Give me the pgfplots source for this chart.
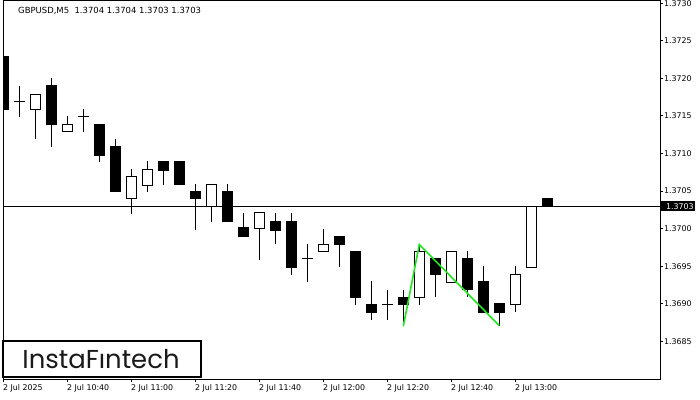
\documentclass[border=0pt]{standalone}
\usepackage{fontspec}
\setmainfont{DejaVu Sans}
\newfontfamily\logofont{Poppins}
\usepackage{pgfplots}
\usepackage{pgfplotstable}
\pgfplotsset{compat=1.18}
\definecolor{patgreen}{RGB}{30,230,30}
\newcommand{\lblfont}{\fontsize{7.9}{9}\selectfont}
% bearish candles: x open high low close
\pgfplotstableread{
x o h l c
0 1.37229 1.37229 1.37149 1.37158
3 1.37190 1.37200 1.37109 1.37138
6 1.37139 1.37139 1.37089 1.37098
7 1.37110 1.37119 1.37049 1.37049
10 1.37090 1.37090 1.37058 1.37078
11 1.37090 1.37090 1.37059 1.37059
12 1.37050 1.37059 1.36998 1.37040
14 1.37050 1.37059 1.37009 1.37009
15 1.37001 1.37021 1.36989 1.36989
17 1.37010 1.37021 1.36979 1.36998
18 1.37010 1.37021 1.36939 1.36949
21 1.36990 1.36990 1.36949 1.36979
22 1.36970 1.36970 1.36899 1.36909
23 1.36899 1.36930 1.36879 1.36889
25 1.36909 1.36919 1.36876 1.36899
27 1.36960 1.36960 1.36909 1.36939
29 1.36960 1.36970 1.36909 1.36919
30 1.36930 1.36950 1.36889 1.36889
31 1.36900 1.36900 1.36871 1.36889
34 1.37040 1.37040 1.37030 1.37030
}\bearT
% bullish candles
\pgfplotstableread{
x o h l c
2 1.37158 1.37179 1.37119 1.37179
4 1.37129 1.37150 1.37129 1.37139
8 1.37040 1.37079 1.37020 1.37070
9 1.37058 1.37090 1.37049 1.37079
13 1.37030 1.37059 1.37009 1.37059
16 1.37000 1.37021 1.36959 1.37021
20 1.36969 1.37000 1.36969 1.36979
26 1.36909 1.36980 1.36899 1.36970
28 1.36929 1.36970 1.36929 1.36970
32 1.36899 1.36950 1.36889 1.36939
33 1.36949 1.37030 1.36949 1.37030
}\bullT
% doji candles
\pgfplotstableread{
x o h l c
1 1.37169 1.37190 1.37149 1.37169
5 1.37149 1.37159 1.37129 1.37149
19 1.36960 1.36980 1.36929 1.36960
24 1.36899 1.36919 1.36879 1.36899
}\dojiT
\pgfplotsset{
  wick/.style={draw=none, mark=none, forget plot,
    error bars/.cd, y dir=plus, y explicit, error mark=none,
    error bar style={draw=black, line width=1bp}},
  vbody/.style={draw=none, mark=none, forget plot,
    error bars/.cd, y dir=plus, y explicit, error mark=none,
    error bar style={draw=#1, line width=\bw, line cap=butt}},
  hline/.style={draw=none, mark=none, forget plot,
    error bars/.cd, x dir=both, x fixed=0.34, error mark=none,
    error bar style={draw=black, line width=1bp}},
}
\newlength{\bw}
\begin{document}
\begin{tikzpicture}
\begin{axis}[
  scale only axis, width=657bp, height=378bp,
  at={(3bp,21bp)}, anchor=south west,
  xmin=-0.019, xmax=41.044, ymin=1.3680, ymax=1.37303,
  axis line style={line width=1bp, black},
  xtick={0,4,8,12,16,20,24,28,32},
  xticklabels={2 Jul 2025,2 Jul 10:40,2 Jul 11:00,2 Jul 11:20,2 Jul 11:40,2 Jul 12:00,2 Jul 12:20,2 Jul 12:40,2 Jul 13:00},
  ytick={1.3685,1.3690,1.3695,1.3700,1.3705,1.3710,1.3715,1.3720,1.3725,1.3730},
  yticklabels={1.3685,1.3690,1.3695,1.3700,1.3705,1.3710,1.3715,1.3720,1.3725,1.3730},
  xtick pos=left, ytick pos=right, yticklabel pos=right,
  tick align=outside, major tick length=3bp,
  tick style={black, line width=1bp},
  xticklabel style={anchor=north west, font=\lblfont, inner sep=0pt, xshift=-0.5bp, yshift=-2bp},
  yticklabel style={anchor=west, font=\lblfont, inner sep=0pt, xshift=1bp},
  clip=true,
]
\addplot[black, line width=1bp, forget plot] coordinates {(-1,1.3703) (42,1.3703)};
% wicks
\addplot[wick] table[x=x, y=l, y error plus expr=\thisrow{h}-\thisrow{l}] {\bearT};
\addplot[wick] table[x=x, y=l, y error plus expr=\thisrow{h}-\thisrow{l}] {\bullT};
\addplot[wick] table[x=x, y=l, y error plus expr=\thisrow{h}-\thisrow{l}] {\dojiT};
% bodies (outer)
\setlength{\bw}{11bp}
\addplot[vbody=black] table[x=x, y=c, y error plus expr=\thisrow{o}-\thisrow{c}] {\bearT};
\addplot[vbody=black] table[x=x, y=o, y error plus expr=\thisrow{c}-\thisrow{o}] {\bullT};
\end{axis}
\begin{axis}[
  scale only axis, width=657bp, height=378bp,
  at={(3bp,21bp)}, anchor=south west,
  xmin=-0.019, xmax=41.044, ymin=1.3680, ymax=1.37303,
  axis lines=none, clip=true,
]
\setlength{\bw}{9bp}
\addplot[vbody=white] table[x=x, y=o, y error plus expr=\thisrow{c}-\thisrow{o}] {\bullT};
\addplot[hline] table[x=x, y=o] {\bullT};
\addplot[hline] table[x=x, y=c] {\bullT};
\addplot[hline] table[x=x, y=o] {\dojiT};
\addplot[hline] table[x=x, y=o] {\bearT};
\addplot[hline] table[x=x, y=c] {\bearT};
\addplot[patgreen, line width=1.6bp] coordinates {(25,1.36870) (26,1.36979) (31,1.36871)};
\coordinate (L) at (axis cs:41.044,1.3703);
\end{axis}
\fill[black, shift={(L)}] (1bp,-5bp) rectangle (35bp,5bp);
\node[anchor=west, text=white, inner sep=0pt, font=\lblfont] at ([xshift=6bp]L) {1.3703};
\node[anchor=west, inner sep=0pt, font=\fontsize{8.5}{10}\selectfont] at (18bp,389bp) {GBPUSD,M5\ \ 1.3704 1.3704 1.3703 1.3703};
\draw[line width=2bp, fill=white] (3bp,23bp) rectangle (201bp,59bp);
\node[inner sep=0pt, font=\logofont\fontsize{26}{30}\selectfont, text=black!90] at (101bp,41bp) {InstaFıntech};
\pgfresetboundingbox
\path[use as bounding box] (0,0) rectangle (700bp,400bp);
\end{tikzpicture}
\end{document}
